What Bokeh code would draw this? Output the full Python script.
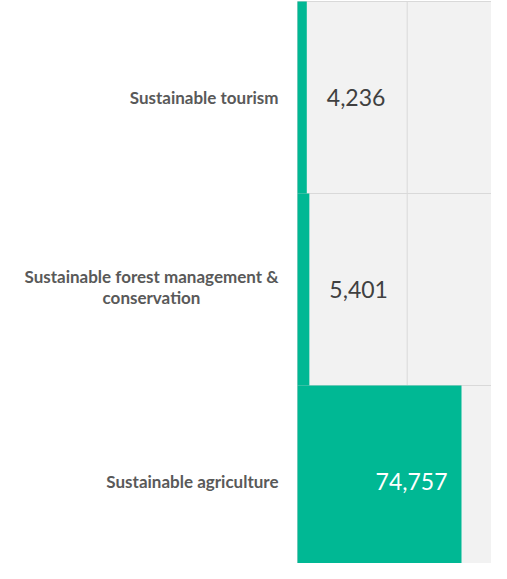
from bokeh.plotting import figure
from bokeh.models import ColumnDataSource, Range1d
from bokeh.core.properties import value
from bokeh.embed import file_html
from bokeh.resources import INLINE

categories = ["Sustainable tourism",
              "Sustainable forest management &\nconservation",
              "Sustainable agriculture"]
values = [4236, 5401, 74757]
value_labels = ["4,236", "5,401", "74,757"]
x_grid_ticks = [0, 50000]

GREEN = "#00B894"
GRID = "#d9d9d9"
n = len(categories)
ys = [n - 1 - i for i in range(n)]

W, H = 491, 563
FRAME_LEFT = 297            # px where value 0 sits
PX_PER_UNIT = 164 / 74757   # horizontal scale
ROW_PX = 192                # row height in px
x_start = -FRAME_LEFT / PX_PER_UNIT
x_end = (W - FRAME_LEFT) / PX_PER_UNIT
y_top = n - 0.5 + 1 / ROW_PX
y_bot = y_top - H / ROW_PX

p = figure(width=W, height=H, output_backend="svg", toolbar_location=None,
           x_range=Range1d(x_start, x_end), y_range=Range1d(y_bot, y_top),
           x_axis_location=None, y_axis_location=None,
           min_border=0)
p.outline_line_color = None
p.background_fill_color = "white"
p.border_fill_color = "white"
p.grid.visible = False

# plot-area background
p.quad(left=[0], right=[x_end], bottom=[y_bot], top=[n - 0.5],
       fill_color="#f2f2f2", line_color=None)
# horizontal grid lines (row boundaries)
bounds = [y + 0.5 for y in ys] + [ys[-1] - 0.5]
p.segment(x0=[0] * len(bounds), x1=[x_end] * len(bounds), y0=bounds, y1=bounds,
          line_color=GRID, line_width=1)
# vertical grid lines
p.segment(x0=x_grid_ticks, x1=x_grid_ticks, y0=[y_bot] * len(x_grid_ticks),
          y1=[n - 0.5] * len(x_grid_ticks), line_color=GRID, line_width=1)

src = ColumnDataSource(dict(y=ys, v=values))
p.hbar(y="y", left=0, right="v", height=1.0, source=src, fill_color=GREEN, line_color=None)

vmax = max(values)
inside = dict(x=[], y=[], t=[])
outside = dict(x=[], y=[], t=[])
for y, v, t in zip(ys, values, value_labels):
    d = inside if v > 0.5 * vmax else outside
    d["x"].append(v); d["y"].append(y); d["t"].append(t)

p.text(x="x", y="y", text="t", source=ColumnDataSource(outside), text_align="left",
       text_baseline="middle", x_offset=20, text_font=value("Lato"),
       text_font_size="23px", text_color="#404040")
p.text(x="x", y="y", text="t", source=ColumnDataSource(inside), text_align="right",
       text_baseline="middle", x_offset=-14, text_font=value("Lato"),
       text_font_size="23px", text_color="white")

# category labels: right-aligned block, centred lines for wrapped labels
single = dict(x=[], y=[], t=[])
multi = dict(x=[], y=[], t=[])
for y, c in zip(ys, categories):
    d = multi if "\n" in c else single
    d["x"].append(0); d["y"].append(y); d["t"].append(c)
lab_style = dict(text_baseline="middle", text_font=value("Lato"), text_font_style="bold",
                 text_font_size="17px", text_color="#595959", text_line_height=1.0)
p.text(x="x", y="y", text="t", source=ColumnDataSource(single), text_align="right",
       x_offset=-19, **lab_style)
p.text(x="x", y="y", text="t", source=ColumnDataSource(multi), text_align="center",
       x_offset=-146, y_offset=-3, **lab_style)

open("out.html", "w").write(file_html(p, INLINE))
